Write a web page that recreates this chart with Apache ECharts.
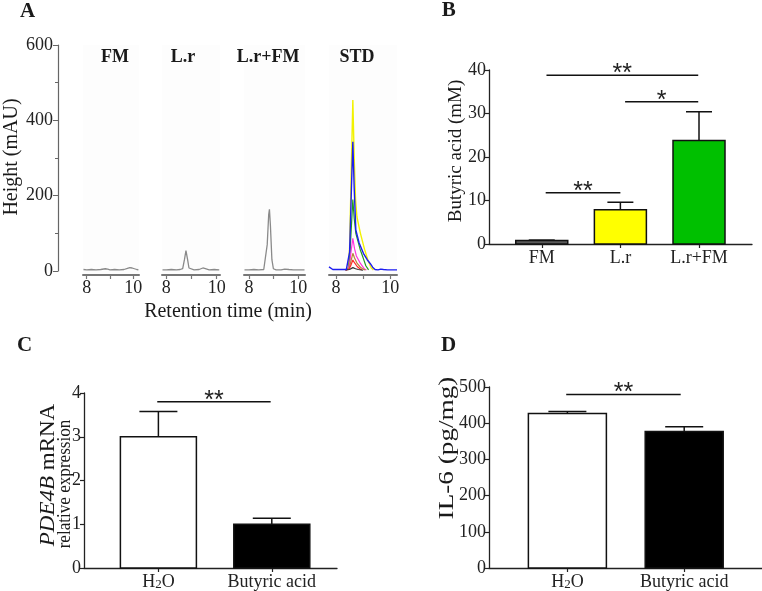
<!DOCTYPE html>
<html><head><meta charset="utf-8">
<script src="https://cdn.jsdelivr.net/npm/echarts@6/dist/echarts.min.js"></script>
<style>html,body{margin:0;padding:0;background:#fff}#c{width:762px;height:591px}</style>
</head><body><div id="c"></div>
<script>
// ---------- Panel A: chromatograms (retention time min, height mAU) ----------
const traceFM = [[7.86,4],[8.0,3],[8.2,4],[8.4,3],[8.6,4],[8.8,6],[8.9,5],[9.0,3],[9.2,4],[9.4,3],[9.6,4],[9.75,7],[9.85,9],[9.95,8],[10.05,6],[10.15,4],[10.22,3]];
const traceLr = [[7.85,3],[8.0,3],[8.2,4],[8.4,3],[8.55,4],[8.65,6],[8.72,30],[8.78,54],[8.84,32],[8.9,8],[8.97,4],[9.1,3],[9.3,4],[9.45,8],[9.55,6],[9.7,3],[9.9,4],[10.1,3],[10.12,3]];
const traceLrFM = [[7.82,3],[8.0,3],[8.2,4],[8.4,3],[8.6,4],[8.68,8],[8.74,70],[8.8,150],[8.83,164],[8.87,120],[8.93,30],[8.99,6],[9.1,3],[9.3,3],[9.45,5],[9.53,7],[9.62,4],[9.8,3],[10.0,3],[10.25,3]];
const stdYellow = [[8.35,3],[8.45,8],[8.5,60],[8.56,260],[8.62,454],[8.67,300],[8.72,190],[8.77,144],[8.9,100],[9.05,58],[9.18,28],[9.3,8],[9.38,3]];
const stdGreen = [[8.35,3],[8.45,6],[8.5,30],[8.56,110],[8.62,190],[8.67,140],[8.73,100],[8.9,55],[9.0,35],[9.1,14],[9.2,3]];
const stdMagenta = [[8.35,3],[8.45,5],[8.5,20],[8.56,55],[8.62,87],[8.68,60],[8.75,40],[8.9,20],[9.05,5],[9.12,3]];
const stdBrown = [[8.35,3],[8.47,5],[8.53,20],[8.62,47],[8.68,35],[8.78,20],[8.9,10],[9.0,5],[9.08,3]];
const stdRed = [[8.35,3],[8.47,4],[8.53,12],[8.62,29],[8.68,22],[8.78,12],[8.88,6],[8.95,3]];
const stdBlack = [[8.35,3],[8.5,4],[8.62,9],[8.72,6],[8.82,4],[9.0,2]];
const stdBlue = [[7.74,11],[7.8,8],[7.88,4],[8.0,4],[8.2,4],[8.38,4],[8.45,8],[8.5,50],[8.56,200],[8.62,343],[8.67,220],[8.73,109],[8.85,75],[9.01,47],[9.15,30],[9.26,20],[9.35,10],[9.44,4],[9.55,3],[9.65,5],[9.75,4],[9.9,3],[10.1,3],[10.25,3]];
const panelNamesA = ['FM','L.r','L.r+FM','STD'];
const ticksAx = [8,9,10];
const labelsAx = [8,10];

// ---------- Panel B: butyric acid ----------
const catsB = ['FM','L.r','L.r+FM'];
const valsB = [0.8, 7.9, 23.8];
const semB = [0.1, 1.7, 6.6];
const sigB = [[0.05,1.0,11.8,'**'],[1.06,1.99,32.7,'*'],[0.06,1.99,38.8,'**']];

// ---------- Panels C, D ----------
const catsCD = ['H2O','Butyric acid'];
const valsC = [3.0, 1.0];
const semC = [0.58, 0.14];
const sigC = [[-0.01,0.99,3.8,'**']];
const valsD = [427, 377];
const semD = [5, 13];
const sigD = [[-0.01,0.97,479,'**']];

const SERIF = '"Liberation Serif","Times New Roman",serif';
const TXT = '#222';

function barRender(bw, colors){
  return function(params, api){
    const x = api.value(0), v = api.value(1);
    const p0 = api.coord([x,0]), p1 = api.coord([x,v]);
    return {type:'rect', shape:{x:p0[0]-bw/2, y:p1[1], width:bw, height:p0[1]-p1[1]},
      style:{fill:colors[params.dataIndex], stroke:'#111', lineWidth:1.5}};
  };
}
function errRender(cap){
  return function(params, api){
    const x = api.value(0), v = api.value(1), e = api.value(2);
    const p1 = api.coord([x,v]), p2 = api.coord([x,v+e]);
    return {type:'group', children:[
      {type:'line', shape:{x1:p1[0],y1:p1[1],x2:p2[0],y2:p2[1]}, style:{stroke:'#111', lineWidth:1.5}},
      {type:'line', shape:{x1:p2[0]-cap,y1:p2[1],x2:p2[0]+cap,y2:p2[1]}, style:{stroke:'#111', lineWidth:1.5}}
    ]};
  };
}
const sigDataAll = {sigB:sigB, sigC:sigC, sigD:sigD};
function sigRender(params, api){
  const a = api.coord([api.value(0), api.value(2)]);
  const b = api.coord([api.value(1), api.value(2)]);
  const lbl = sigDataAll[params.seriesName][params.dataIndex][3];
  return {type:'group', children:[
    {type:'line', shape:{x1:a[0],y1:a[1],x2:b[0],y2:b[1]}, style:{stroke:'#111', lineWidth:1.5}},
    {type:'text', x:(a[0]+b[0])/2, y:a[1]-1, style:{text:lbl, fontSize:25, fontFamily:'"Liberation Sans",Arial,sans-serif', fill:'#222', align:'center', verticalAlign:'middle', textAlign:'center', textVerticalAlign:'middle'}}
  ]};
}

const BG = '#fdfdfd';
const grid = [
  {left:58, top:45, width:1, height:226},
  {left:83, top:45, width:56, height:230, show:true, backgroundColor:BG, borderWidth:0},
  {left:162, top:45, width:58, height:230, show:true, backgroundColor:BG, borderWidth:0},
  {left:244, top:45, width:61, height:230, show:true, backgroundColor:BG, borderWidth:0},
  {left:329, top:45, width:68, height:230, show:true, backgroundColor:BG, borderWidth:0},
  {left:489, top:70, width:263, height:174},
  {left:84, top:393, width:253, height:175},
  {left:489, top:387, width:273, height:181}
];
const subRanges = [[7.84,10.245],[7.83,10.13],[7.80,10.27],[7.74,10.25]];

const xAxis = [{gridIndex:0, type:'value', show:false, min:0, max:1}];
const yAxis = [{gridIndex:0, type:'value', min:0, max:600, interval:200,
  axisLine:{show:true, onZero:false, lineStyle:{color:'#666', width:1.2}},
  axisTick:{show:true, length:5, lineStyle:{color:'#666'}},
  minorTick:{show:true, splitNumber:2, length:3, lineStyle:{color:'#666'}},
  splitLine:{show:false},
  axisLabel:{fontFamily:SERIF, fontSize:18, color:TXT, margin:5}}];
for (let i=0;i<4;i++){
  xAxis.push({gridIndex:i+1, type:'value', min:subRanges[i][0], max:subRanges[i][1],
    axisLine:{onZero:false, lineStyle:{color:'#777', width:2}},
    axisTick:{customValues:ticksAx, length:4, lineStyle:{color:'#777', width:1.2}},
    axisLabel:{customValues:labelsAx, fontFamily:SERIF, fontSize:18, color:TXT, margin:4},
    splitLine:{show:false}});
  yAxis.push({gridIndex:i+1, type:'value', min:-10.6, max:600, show:false});
}
function catAxis(gi, min, max, cats){
  return {gridIndex:gi, type:'value', min:min, max:max,
    axisLine:{onZero:false, lineStyle:{color:'#222', width:1.3}},
    axisTick:{customValues:cats.map((c,i)=>i), length:4, lineStyle:{color:'#222', width:1.2}},
    axisLabel:{customValues:cats.map((c,i)=>i), margin:5, color:TXT, fontFamily:SERIF, fontSize:18,
      formatter:function(v){ const c = cats[Math.round(v)]; return c==='H2O' ? 'H{s|2}O' : c; },
      rich:{s:{fontSize:13, fontFamily:SERIF, color:TXT, verticalAlign:'bottom', padding:[4,0,0,0]}}},
    splitLine:{show:false}};
}
function valAxis(gi, max, interval){
  return {gridIndex:gi, type:'value', min:0, max:max, interval:interval,
    axisLine:{show:true, onZero:false, lineStyle:{color:'#222', width:1.3}},
    axisTick:{show:true, length:4, lineStyle:{color:'#222', width:1.2}},
    axisLabel:{fontFamily:SERIF, fontSize:18, color:TXT, margin:3},
    splitLine:{show:false}};
}
xAxis.push(catAxis(5, -0.671, 2.674, catsB)); yAxis.push(valAxis(5, 40, 10));
xAxis.push(catAxis(6, -0.656, 1.575, catsCD)); yAxis.push(valAxis(6, 4, 1));
xAxis.push(catAxis(7, -0.671, 1.666, catsCD)); yAxis.push(valAxis(7, 500, 100));

function lineSeries(idx, data, color, w){
  return {type:'line', xAxisIndex:idx, yAxisIndex:idx, data:data, showSymbol:false, symbol:'none',
    lineStyle:{color:color, width:w||1.3}, silent:true, z:3};
}
const series = [
  lineSeries(1, traceFM, '#8a8a8a'),
  lineSeries(2, traceLr, '#8a8a8a'),
  lineSeries(3, traceLrFM, '#8a8a8a'),
  lineSeries(4, stdYellow, '#f2f200', 1.4),
  lineSeries(4, stdGreen, '#229a22', 1.2),
  lineSeries(4, stdMagenta, '#ff33dd', 1.2),
  lineSeries(4, stdBrown, '#b8863b', 1.2),
  lineSeries(4, stdRed, '#ff2a2a', 1.2),
  lineSeries(4, stdBlack, '#333333', 1.2),
  lineSeries(4, stdBlue, '#1c1cf0', 1.4)
];
function addBarPanel(gi, vals, sem, colors, bw, cap, sigName, sig){
  series.push({type:'custom', name:'bars'+gi, xAxisIndex:gi, yAxisIndex:gi, renderItem:barRender(bw, colors),
    data:vals.map((v,i)=>[i,v]), z:2, clip:false});
  series.push({type:'custom', name:'err'+gi, xAxisIndex:gi, yAxisIndex:gi, renderItem:errRender(cap),
    data:vals.map((v,i)=>[i,v,sem[i]]), z:3, clip:false});
  series.push({type:'custom', name:sigName, xAxisIndex:gi, yAxisIndex:gi, renderItem:sigRender,
    data:sig.map(s=>[s[0],s[1],s[2]]), z:4, clip:false});
}
addBarPanel(5, valsB, semB, ['#5a5a5a','#ffff00','#00c000'], 52, 13, 'sigB', sigB);
addBarPanel(6, valsC, semC, ['#ffffff','#000000'], 76, 19, 'sigC', sigC);
addBarPanel(7, valsD, semD, ['#ffffff','#000000'], 78, 19, 'sigD', sigD);

function txt(text, x, y, size, opts){
  opts = opts || {};
  return {type:'text', x:x, y:y, rotation:opts.rot||0, scaleX:opts.sx||1, z:10,
    style:Object.assign({text:text, fontSize:size, fontFamily:SERIF, fontWeight:opts.bold?'bold':'normal',
      fill:'#1a1a1a', align:'center', verticalAlign:'middle', textAlign:'center', textVerticalAlign:'middle'}, opts.extra||{})};
}
const R = Math.PI/2;
const graphic = [
  txt('A', 27.5, 12, 21, {bold:true}),
  txt('B', 448.7, 11, 21, {bold:true}),
  txt('C', 24.5, 346, 21, {bold:true}),
  txt('D', 448.5, 346, 21, {bold:true}),
  txt(panelNamesA[0], 115, 57, 18, {bold:true}),
  txt(panelNamesA[1], 183, 57, 18, {bold:true}),
  txt(panelNamesA[2], 268, 57, 18, {bold:true}),
  txt(panelNamesA[3], 357, 57, 18, {bold:true}),
  txt('Retention time (min)', 228, 312, 20),
  txt('Height (mAU)', 12, 157, 20, {rot:R}),
  txt('Butyric acid (mM)', 456, 151, 19, {rot:R}),
  txt('{i|PDE4B} mRNA', 49, 475, 20, {rot:R, sx:1.15, extra:{rich:{i:{fontStyle:'italic', fontSize:20, fontFamily:SERIF, fill:'#1a1a1a'}}}}),
  txt('relative expression', 65, 484, 18, {rot:R, sx:0.95}),
  txt('IL-6 (pg/mg)', 448, 448, 20, {rot:R, sx:1.36})
];

const chart = echarts.init(document.getElementById('c'), null, {renderer:'canvas'});
chart.setOption({animation:false, backgroundColor:'#ffffff', grid:grid, xAxis:xAxis, yAxis:yAxis, series:series, graphic:graphic});
</script></body></html>
